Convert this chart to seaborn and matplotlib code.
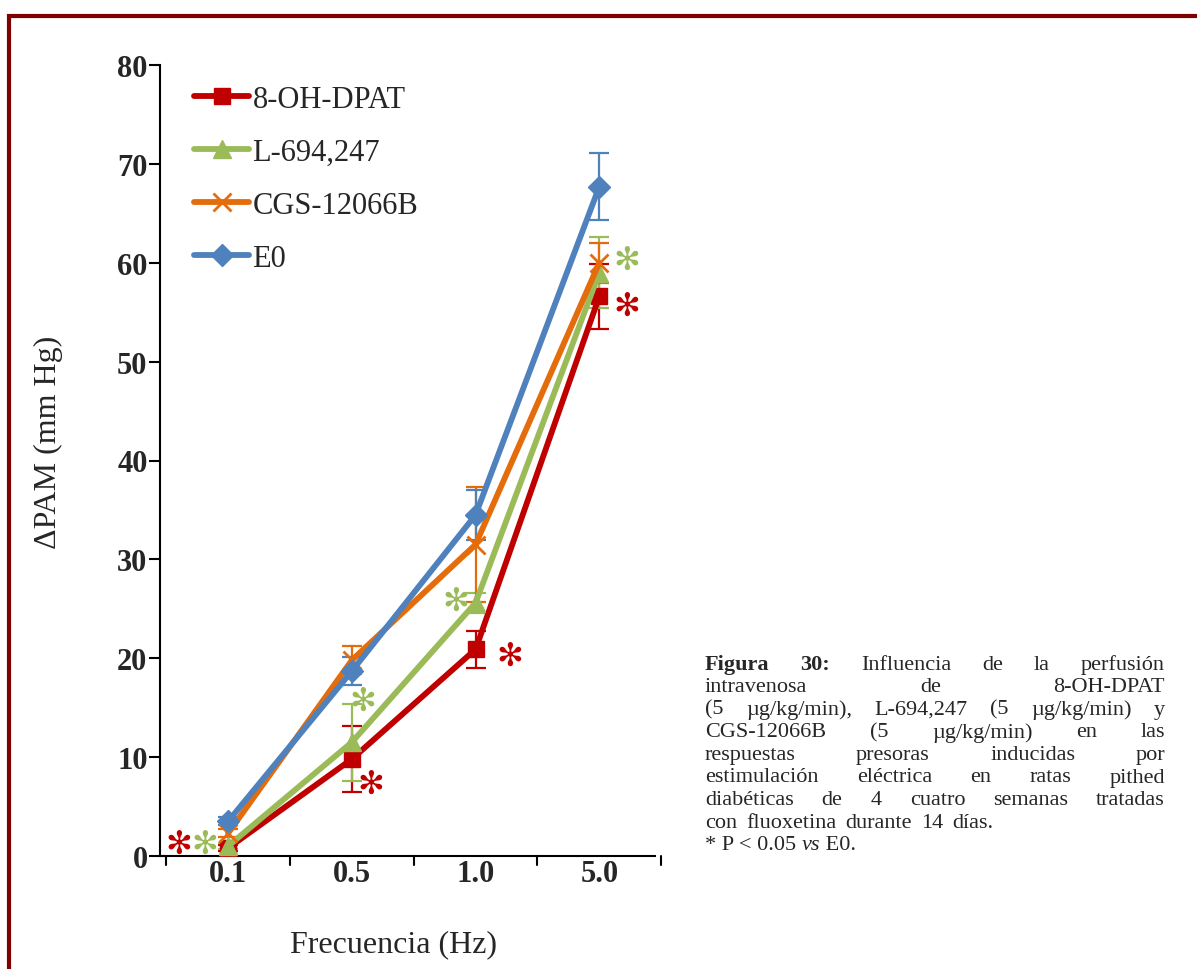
import numpy as np
import pandas as pd
import seaborn as sns
import matplotlib
matplotlib.use("Agg")
import matplotlib.pyplot as plt
from matplotlib.patches import Rectangle

# ---- data -------------------------------------------------------------
frequencies = ["0.1", "0.5", "1.0", "5.0"]
series_names = ["8-OH-DPAT", "L-694,247", "CGS-12066B", "E0"]
dpat_mean = [0.8, 9.8, 20.9, 56.6]
dpat_err = [0.3, 3.3, 1.9, 3.3]
l694_mean = [1.0, 11.5, 25.6, 59.0]
l694_err = [0.3, 3.9, 1.0, 3.6]
cgs_mean = [2.3, 19.8, 31.5, 60.0]
cgs_err = [0.4, 1.4, 5.8, 2.0]
e0_mean = [3.5, 18.7, 34.5, 67.7]
e0_err = [0.4, 1.4, 2.5, 3.4]

# significance marks: (series index, category index)
sig_marks = [(0, 0), (1, 0), (1, 1), (0, 1), (1, 2), (0, 2), (1, 3), (0, 3)]

y_ticks = [0, 10, 20, 30, 40, 50, 60, 70, 80]

caption_lines = [
    "Influencia de la perfusión",
    "intravenosa de 8-OH-DPAT",
    "(5 µg/kg/min), L-694,247 (5 µg/kg/min) y",
    "CGS-12066B (5 µg/kg/min) en las",
    "respuestas presoras inducidas por",
    "estimulación eléctrica en ratas pithed",
    "diabéticas de 4 cuatro semanas tratadas",
    "con fluoxetina durante 14 días.",
]

# ---- styling ------------------------------------------------------------
sns.set_style("white")
plt.rcParams["font.family"] = ["Liberation Serif", "DejaVu Serif"]

colors = ["#C00000", "#9BBB59", "#E46C0A", "#4F81BD"]
markers = ["s", "^", "x", "D"]
msizes = [11, 13, 13, 11]
means = [dpat_mean, l694_mean, cgs_mean, e0_mean]
errs = [dpat_err, l694_err, cgs_err, e0_err]

rows = []
for name, m in zip(series_names, means):
    for i, v in enumerate(m):
        rows.append({"serie": name, "pos": i, "valor": v})
df = pd.DataFrame(rows)

W, H = 1197, 970
fig = plt.figure(figsize=(W / 100, H / 100), dpi=100)
ax = fig.add_axes([160 / W, 1 - 857 / H, (655 - 160) / W, (857 - 66) / H])

# error bars first so that lines sit above them
for k in range(4):
    ax.errorbar(range(4), means[k], yerr=errs[k], fmt="none", ecolor=colors[k],
                elinewidth=1.6, capsize=7, capthick=1.6, zorder=2)

for k, name in enumerate(series_names):
    sub = df[df["serie"] == name]
    sns.lineplot(data=sub, x="pos", y="valor", ax=ax, color=colors[k],
                 linewidth=4.2, marker=markers[k], markersize=msizes[k],
                 markeredgecolor=colors[k], markeredgewidth=2 if markers[k] == "x" else 1,
                 label=name, zorder=3 + k, legend=False)

ax.set_xlim(-0.55, 3.45)
ax.set_ylim(0, 80)
ax.set_yticks(y_ticks)
ax.set_yticklabels([str(t) for t in y_ticks], fontsize=22, fontweight="bold")
ax.set_xticks(range(4))
ax.set_xticklabels(frequencies, fontsize=22, fontweight="bold")
ax.tick_params(axis="x", length=0, pad=2)
# boundary tick marks between categories
for b in np.arange(-0.5, 4.0, 1.0):
    ax.plot([b, b], [0, -0.9], color="black", lw=1.5, clip_on=False, zorder=1)
ax.plot([-0.55, -0.5], [0, 0], color="black", lw=1.5, clip_on=False)
ax.tick_params(axis="y", length=8, width=1.5, direction="out", color="black", pad=1, left=True)
for s in ["top", "right"]:
    ax.spines[s].set_visible(False)
for s in ["left", "bottom"]:
    ax.spines[s].set_color("black")
    ax.spines[s].set_linewidth(1.5)
ax.set_xlabel("")
ax.set_ylabel("")

fig.text(48 / W, 1 - 442 / H, "ΔPAM (mm Hg)", rotation=90, ha="center", va="center", fontsize=23)
fig.text(393 / W, 1 - 945 / H, "Frecuencia (Hz)", ha="center", va="center", fontsize=23)

# legend
handles, labels = ax.get_legend_handles_labels()
leg = ax.legend(handles, labels, loc="upper left", bbox_to_anchor=(0.045, 0.99), frameon=False,
                fontsize=22, handlelength=1.8, handletextpad=0.1, labelspacing=0.78,
                borderaxespad=0)

# significance asterisks (x offset from category, y value)
star_pos = {
    (0, 0): (-0.40, 1.2), (1, 0): (-0.19, 1.2),
    (1, 1): (0.09, 15.6), (0, 1): (0.15, 7.3),
    (1, 2): (-0.16, 25.8), (0, 2): (0.28, 20.2),
    (1, 3): (0.22, 60.2), (0, 3): (0.22, 55.6),
}
for (k, i) in sig_marks:
    dx, yv = star_pos[(k, i)]
    ax.text(i + dx, yv, "✻", color=colors[k], fontsize=23,
            family="DejaVu Sans", ha="center", va="center", zorder=10)

# caption, justified between two edges
fig.canvas.draw()
renderer = fig.canvas.get_renderer()
left_px, right_px = 705, 1165
top_y = 665
line_h = 22.6
fs = 16


def px(x, y):
    return x / W, 1 - y / H


def text_width(s, **kw):
    t = fig.text(0, 0, s, fontsize=fs, **kw)
    w = t.get_window_extent(renderer).width
    t.remove()
    return w


space = text_width("a b") - text_width("ab")
for li, line in enumerate(caption_lines):
    y = top_y + li * line_h
    items = []
    if li == 0:
        items.append(("Figura", {"fontweight": "bold"}))
        items.append(("30:", {"fontweight": "bold"}))
    items += [(w, {}) for w in line.split(" ")]
    widths = [text_width(w, **kw) for w, kw in items]
    if li == len(caption_lines) - 1:
        gap = space * 1.6
    else:
        gap = (right_px - left_px - sum(widths)) / (len(items) - 1)
    x = left_px
    for (w, kw), wd in zip(items, widths):
        fig.text(*px(x, y), w, fontsize=fs, ha="left", va="center", **kw)
        x += wd + gap

y = top_y + len(caption_lines) * line_h
x = left_px
for piece, kw in [("* P < 0.05 ", {}), ("vs", {"style": "italic"}), (" E0.", {})]:
    fig.text(*px(x, y), piece, fontsize=fs, ha="left", va="center", **kw)
    x += text_width(piece, **kw)

# dark red frame
fig.patches.append(Rectangle((9 / W, -0.05), 1.2, 1 - 16.5 / H + 0.05, transform=fig.transFigure,
                             fill=False, edgecolor="#800000", linewidth=3, zorder=0))

fig.savefig("out.png", dpi=100)
